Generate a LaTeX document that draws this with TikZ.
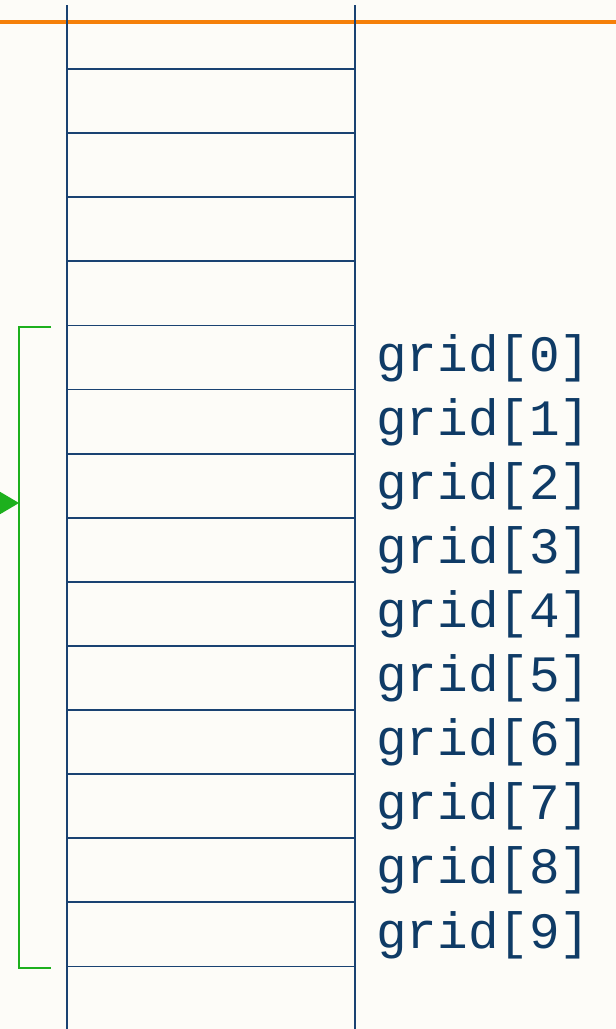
\documentclass[tikz,border=0pt]{standalone}
\usepackage{fontspec}
\setmonofont{Liberation Mono}
\begin{document}
\begin{tikzpicture}[x=1pt,y=-1pt,
  cellline/.style={draw=navy,line width=1.8pt},
  label/.style={anchor=west,inner sep=0pt,text=labelblue,font=\ttfamily\fontsize{51}{51}\selectfont},
  bracket/.style={draw=bracketgreen,line width=1.6pt}]
\definecolor{navy}{HTML}{1A4272}
\definecolor{labelblue}{HTML}{0F3B66}
\definecolor{bracketgreen}{HTML}{1DB01D}
\definecolor{rule}{HTML}{F5800A}
\definecolor{paper}{HTML}{FDFCF8}
\fill[paper] (0,0) rectangle (616,1029);
\useasboundingbox (0,0) rectangle (616,1029);
% orange rule across the top
\draw[rule,line width=4pt] (0,21.5) -- (616,21.5);
% column walls
\coordinate (lt) at (67,5);
\coordinate (lb) at (67,1029);
\coordinate (rt) at (355,5);
\coordinate (rb) at (355,1029);
\draw[cellline] (lt) -- (lb);
\draw[cellline] (rt) -- (rb);
% row separators
\foreach \k in {0,...,14}{
  \coordinate (sl\k) at (67,69+64.1*\k);
  \coordinate (sr\k) at (355,69+64.1*\k);
  \draw[cellline] (sl\k) -- (sr\k);
}
% labels of the grid rows
\foreach \k in {0,...,9}{
  \node[label] (g\k) at (376,358+64.1*\k) {grid[\k]};
}
% bracket spanning grid[0]..grid[9]
\coordinate (bt) at (51,327);
\coordinate (bb) at (51,968);
\coordinate (bx) at (19,327);
\coordinate (by) at (19,968);
\draw[bracket] (bt) -- (bx) -- (by) -- (bb);
\coordinate (tip) at (19,503);
\fill[bracketgreen] (tip) -- (-3,490) -- (-3,516) -- cycle;
\end{tikzpicture}
\end{document}
